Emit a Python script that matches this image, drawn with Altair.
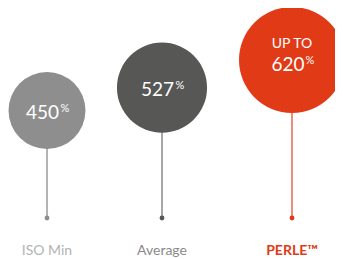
import altair as alt
import pandas as pd

categories = ["ISO Min", "Average", "PERLE™"]
values = [450, 527, 620]
prefixes = ["", "", "UP TO"]

fill_colors = ["#8e8e8e", "#575756", "#e03a17"]
stem_colors = ["#9a9a9a", "#8a8a8a", "#e8654c"]
dot_colors = ["#8e8e8e", "#575756", "#e03a17"]
label_colors = ["#b3b3b3", "#8a8a8a", "#e03a17"]

df = pd.DataFrame({"category": categories, "value": values, "prefix": prefixes})

FONT = "Lato"

x = alt.X("value:Q", axis=None,
          scale=alt.Scale(domain=[450, 527, 620], range=[39, 154, 284], zero=False, nice=False))
y = alt.Y("value:Q", axis=None,
          scale=alt.Scale(domain=[450, 620], range=[102.5, 52], zero=False, nice=False))


def col(rng):
    return alt.Color("category:N", legend=None,
                     scale=alt.Scale(domain=categories, range=rng))


base = alt.Chart(df)
plain = base.transform_filter("datum.prefix == ''")
pref = base.transform_filter("datum.prefix != ''")

stems = base.mark_rule(strokeWidth=1.5).encode(
    x=x, y=y, y2=alt.value(210), color=col(stem_colors))

dots = base.mark_circle(size=24, opacity=1).encode(
    x=x, y=alt.value(210), color=col(dot_colors))

bubbles = base.mark_circle(opacity=1).encode(
    x=x, y=y, color=col(fill_colors),
    size=alt.Size("value:Q", legend=None,
                  scale=alt.Scale(type="pow", exponent=2, domain=[0, 620], range=[0, 11236])))

num_plain = plain.mark_text(
    align="right", baseline="middle", dx=12, dy=2.5, font=FONT, fontSize=19, color="white"
).encode(x=x, y=y, text="value:Q")

pct_plain = plain.mark_text(
    align="left", baseline="middle", dx=13.5, dy=-1.5, font=FONT, fontSize=11, color="white"
).encode(x=x, y=y, text=alt.value("%"))

num_pref = pref.mark_text(
    align="right", baseline="middle", dx=12.5, dy=5, font=FONT, fontSize=19, color="white"
).encode(x=x, y=y, text="value:Q")

pct_pref = pref.mark_text(
    align="left", baseline="middle", dx=13.5, dy=1, font=FONT, fontSize=11, color="white"
).encode(x=x, y=y, text=alt.value("%"))

prefix_txt = pref.mark_text(
    align="center", baseline="middle", dy=-16, font=FONT, fontSize=14, color="white"
).encode(x=x, y=y, text="prefix:N")

labels_plain = plain.mark_text(
    align="center", baseline="middle", font=FONT, fontSize=14
).encode(x=x, y=alt.value(242.5), text="category:N", color=col(label_colors))

labels_pref = pref.mark_text(
    align="center", baseline="middle", font=FONT, fontSize=14, fontWeight="bold"
).encode(x=x, y=alt.value(242.5), text="category:N", color=col(label_colors))

chart = alt.layer(
    stems, dots, bubbles, num_plain, pct_plain, num_pref, pct_pref, prefix_txt,
    labels_plain, labels_pref
).resolve_scale(color="independent").properties(
    width=327, height=251, autosize=alt.AutoSizeParams(type="none"), padding=0,
    background="white"
).configure_view(stroke=None)

chart.save("out.html", embed_options={"renderer": "svg", "actions": False})
